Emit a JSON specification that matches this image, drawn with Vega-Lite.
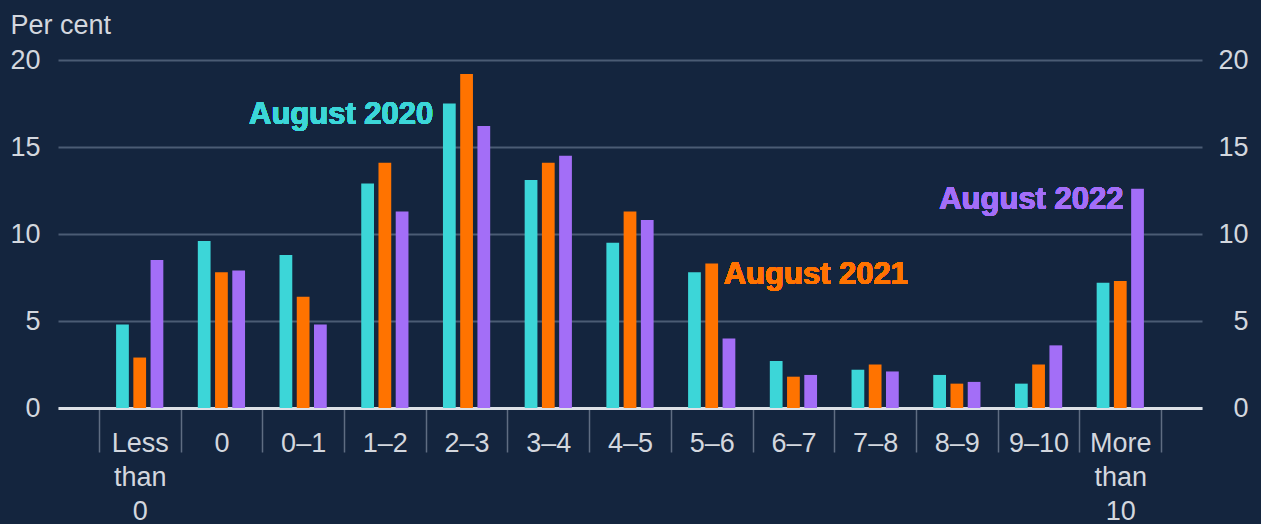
{
  "$schema": "https://vega.github.io/schema/vega-lite/v6.json",
  "autosize": "none",
  "width": 1144,
  "height": 348,
  "padding": {"left": 58, "top": 60, "right": 59, "bottom": 116},
  "background": "#14253e",
  "config": {
    "view": {"stroke": null},
    "font": "Liberation Sans",
    "axis": {"labelFont": "Liberation Sans", "titleFont": "Liberation Sans"}
  },
  "datasets": {
    "bars": [
      {"bucket": "Less than 0", "series": "August 2020", "value": 4.8},
      {"bucket": "Less than 0", "series": "August 2021", "value": 2.9},
      {"bucket": "Less than 0", "series": "August 2022", "value": 8.5},
      {"bucket": "0", "series": "August 2020", "value": 9.6},
      {"bucket": "0", "series": "August 2021", "value": 7.8},
      {"bucket": "0", "series": "August 2022", "value": 7.9},
      {"bucket": "0–1", "series": "August 2020", "value": 8.8},
      {"bucket": "0–1", "series": "August 2021", "value": 6.4},
      {"bucket": "0–1", "series": "August 2022", "value": 4.8},
      {"bucket": "1–2", "series": "August 2020", "value": 12.9},
      {"bucket": "1–2", "series": "August 2021", "value": 14.1},
      {"bucket": "1–2", "series": "August 2022", "value": 11.3},
      {"bucket": "2–3", "series": "August 2020", "value": 17.5},
      {"bucket": "2–3", "series": "August 2021", "value": 19.2},
      {"bucket": "2–3", "series": "August 2022", "value": 16.2},
      {"bucket": "3–4", "series": "August 2020", "value": 13.1},
      {"bucket": "3–4", "series": "August 2021", "value": 14.1},
      {"bucket": "3–4", "series": "August 2022", "value": 14.5},
      {"bucket": "4–5", "series": "August 2020", "value": 9.5},
      {"bucket": "4–5", "series": "August 2021", "value": 11.3},
      {"bucket": "4–5", "series": "August 2022", "value": 10.8},
      {"bucket": "5–6", "series": "August 2020", "value": 7.8},
      {"bucket": "5–6", "series": "August 2021", "value": 8.3},
      {"bucket": "5–6", "series": "August 2022", "value": 4.0},
      {"bucket": "6–7", "series": "August 2020", "value": 2.7},
      {"bucket": "6–7", "series": "August 2021", "value": 1.8},
      {"bucket": "6–7", "series": "August 2022", "value": 1.9},
      {"bucket": "7–8", "series": "August 2020", "value": 2.2},
      {"bucket": "7–8", "series": "August 2021", "value": 2.5},
      {"bucket": "7–8", "series": "August 2022", "value": 2.1},
      {"bucket": "8–9", "series": "August 2020", "value": 1.9},
      {"bucket": "8–9", "series": "August 2021", "value": 1.4},
      {"bucket": "8–9", "series": "August 2022", "value": 1.5},
      {"bucket": "9–10", "series": "August 2020", "value": 1.4},
      {"bucket": "9–10", "series": "August 2021", "value": 2.5},
      {"bucket": "9–10", "series": "August 2022", "value": 3.6},
      {"bucket": "More than 10", "series": "August 2020", "value": 7.2},
      {"bucket": "More than 10", "series": "August 2021", "value": 7.3},
      {"bucket": "More than 10", "series": "August 2022", "value": 12.6}
    ]
  },
  "data": {"name": "bars"},
  "encoding": {
    "x": {
      "field": "bucket",
      "type": "nominal",
      "sort": null,
      "scale": {"paddingInner": 0, "paddingOuter": 0.5},
      "axis": {
        "title": null,
        "labelAngle": 0,
        "labelExpr": "split(datum.label, ' ')",
        "labelFontSize": 27,
        "labelColor": "#d3d7de",
        "labelBaseline": "top",
        "labelLineHeight": 34,
        "labelPadding": -22,
        "tickBand": "extent",
        "ticks": true,
        "tickSize": 44,
        "tickColor": "#5f6d82",
        "tickWidth": 1.5,
        "domain": true,
        "domainColor": "#dde1e7",
        "domainWidth": 3,
        "grid": false
      }
    }
  },
  "layer": [
    {
      "mark": {"type": "bar"},
      "encoding": {
        "xOffset": {
          "field": "series",
          "type": "nominal",
          "scale": {"paddingInner": 0.26, "paddingOuter": 1.04}
        },
        "y": {
          "field": "value",
          "type": "quantitative",
          "scale": {"domain": [0, 20]},
          "axis": {
            "values": [0, 5, 10, 15, 20],
            "title": "Per cent",
            "titleAngle": 0,
            "titleAlign": "left",
            "titleBaseline": "alphabetic",
            "titleX": -48,
            "titleY": -27,
            "titleFontSize": 27,
            "titleFontWeight": "normal",
            "titleColor": "#d3d7de",
            "labelFontSize": 27,
            "labelColor": "#d3d7de",
            "labelPadding": 18,
            "ticks": false,
            "domain": false,
            "grid": true,
            "gridColor": "#4b5c74",
            "gridWidth": 2
          }
        },
        "color": {
          "field": "series",
          "type": "nominal",
          "scale": {
            "domain": ["August 2020", "August 2021", "August 2022"],
            "range": ["#3cd6d8", "#ff7300", "#a36ef7"]
          },
          "legend": null
        }
      }
    },
    {
      "layer": [
        {
          "mark": {"type": "text", "align": "right", "baseline": "middle", "dx": -16, "fontSize": 31, "fontWeight": "bold", "color": "#3cd6d8"},
          "encoding": {
            "x": {"datum": "2–3"},
            "xOffset": {"datum": "August 2020"},
            "y": {"datum": 16.85},
            "text": {"value": "August 2020"}
          }
        },
        {
          "mark": {"type": "text", "align": "left", "baseline": "middle", "dx": 12, "fontSize": 31, "fontWeight": "bold", "color": "#ff7300"},
          "encoding": {
            "x": {"datum": "5–6"},
            "xOffset": {"datum": "August 2021"},
            "y": {"datum": 7.64},
            "text": {"value": "August 2021"}
          }
        },
        {
          "mark": {"type": "text", "align": "right", "baseline": "middle", "dx": -14, "fontSize": 31, "fontWeight": "bold", "color": "#a36ef7"},
          "encoding": {
            "x": {"datum": "More than 10"},
            "xOffset": {"datum": "August 2022"},
            "y": {
              "datum": 11.95,
              "type": "quantitative",
              "scale": {"domain": [0, 20]},
              "axis": {
                "values": [0, 5, 10, 15, 20],
                "orient": "right",
                "title": null,
                "labelFontSize": 27,
                "labelColor": "#d3d7de",
                "labelAlign": "right",
                "labelPadding": 46,
                "ticks": false,
                "domain": false,
                "grid": false
              }
            },
            "text": {"value": "August 2022"}
          }
        }
      ]
    }
  ],
  "resolve": {"scale": {"y": "independent"}}
}
